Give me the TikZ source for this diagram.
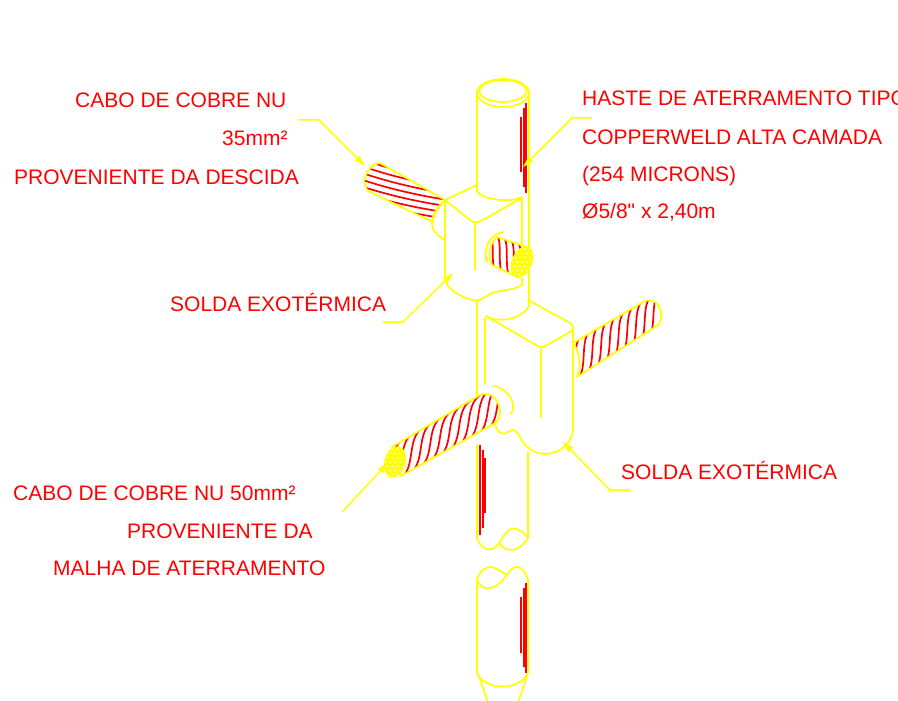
\documentclass[tikz,border=0pt]{standalone}
\usepackage{fontspec}
\newfontfamily\lbfont{Liberation Sans}
\usetikzlibrary{arrows.meta}
\definecolor{yel}{RGB}{255,255,0}
\definecolor{cu}{RGB}{255,0,0}

% outlines of the copper cables (pixel-like units, y downwards)
\newcommand{\cabAout}{(380,163) -- (445,200) .. controls (439,207) and (433,214) .. (433,222) -- (374,194) -- (367,190) -- (364,181) -- (367,172) -- (373,165) -- cycle}
\newcommand{\cabBout}{(497,237) -- (527,247) -- (517,277) -- (492,265) .. controls (488,258) and (489,243) .. (497,237) -- cycle}
\newcommand{\cabCout}{(392,447) -- (480,395) .. controls (492,390) and (500,402) .. (500,412) .. controls (500,418) and (498,421) .. (495,423) -- (401,476) -- cycle}
\newcommand{\cabDout}{(573,343) -- (645,301) .. controls (655,297) and (663,308) .. (661,318) .. controls (660,323) and (658,326) .. (655,327) -- (577,377) .. controls (582,368) and (580,352) .. (573,343) -- cycle}

\begin{document}
\begin{tikzpicture}[x=1pt,y=-1pt,
  yl/.style={draw=yel, line width=1.7pt, line join=round, line cap=round},
  strand/.style={draw=cu, line width=1.7pt},
  rodmark/.style={draw=cu, line width=2pt},
  leader/.style={draw=yel, line width=1.5pt, -{Triangle[length=11pt,width=6.5pt]}},
  lbl/.style={text=cu, font=\lbfont\fontsize{21}{25}\selectfont, anchor=base west, inner sep=0pt},
  face/.style={fill=yel, draw=yel, line width=1.2pt}]

\fill[white] (0,0) rectangle (898,701);
\useasboundingbox (0,0) rectangle (898,701);

% ---------- copper marks on the rod ----------
\draw[rodmark] (521,117) -- (521,172);
\draw[rodmark] (523.5,108) -- (523.5,187);
\draw[rodmark] (526,103) -- (526,193);
\draw[rodmark] (480,445) -- (480,535);
\draw[rodmark] (482.5,450) -- (482.5,528);
\draw[rodmark] (485,458) -- (485,513);
\draw[rodmark] (521,597) -- (521,653);
\draw[rodmark] (523.5,588) -- (523.5,667);
\draw[rodmark] (526,583) -- (526,673);

% ---------- rod, top part ----------
\draw[yl] (503,93) ellipse [x radius=26pt, y radius=14pt];
\draw[yl] (503,91) ellipse [x radius=23.5pt, y radius=11pt];
\draw[yl] (477,93) -- (477,191) .. controls (481,200) and (512,203) .. (522,197);
\draw[yl] (529,93) -- (529,306);

% ---------- upper weld mould ----------
\draw[yl] (445,200) -- (477,185);
\draw[yl] (445,200) -- (470,220) .. controls (474,223) and (477,223) .. (481,221) -- (522,198);
\draw[yl] (445,200) -- (445,278) .. controls (446,288) and (458,296) .. (472,300)
  .. controls (480,302) and (485,297) .. (490,294) .. controls (498,290) and (512,291) .. (522,285);
\draw[yl] (475,225) -- (475,270);
\draw[yl] (522,198) -- (522,244);
\draw[yl] (522,278) -- (522,285);

% ---------- 35 mm2 cable ----------
\begin{scope}
  \clip \cabAout;
  \begin{scope}[shift={(370,180)}, rotate=-25]
    \foreach \v in {-22,-15.5,...,60}
      \draw[strand] (-15,\v) .. controls (25,\v-4) and (75,\v-15) .. (120,\v-33);
  \end{scope}
\end{scope}
\draw[yl] \cabAout;
\draw[yl] (445,200) .. controls (437,207) and (432,215) .. (432,224) .. controls (432,231) and (438,236) .. (445,240);

% ---------- short cable into the upper mould ----------
\begin{scope}
  \clip \cabBout;
  \begin{scope}[shift={(492,251)}, rotate=-20]
    \foreach \u in {-30,-22.5,...,50}
      \draw[strand] (\u,-16) .. controls (\u+6,-12) and (\u+10,10) .. (\u+16,16);
  \end{scope}
\end{scope}
\draw[yl] \cabBout;
\draw[yl] (503,232) .. controls (494,234) and (487,241) .. (486,250) .. controls (485,255) and (486,259) .. (487,262);
\draw[face] (522,262) ellipse [x radius=9.5pt, y radius=16pt, rotate=-23];
\begin{scope}
  \clip (522,262) ellipse [x radius=9pt, y radius=15.5pt, rotate=-23];
  \foreach \i in {-4,...,4}
    \foreach \j in {-5,...,5}
      \fill[white] ({522+\i*5+\j*2.5},{262+\j*4.33}) circle (1pt);
\end{scope}

% ---------- rod between the moulds ----------
\draw[yl] (477,300) -- (477,396);

% ---------- lower weld mould ----------
\draw[yl] (486,316) .. controls (495,322) and (520,322) .. (529,306);
\draw[yl] (486,316) -- (536,345) .. controls (540,348) and (543,348) .. (547,345)
  -- (570,332) .. controls (574,329) and (574,326) .. (570,323) -- (528,300);
\draw[yl] (541,349) -- (541,417);
\draw[yl] (485,318) -- (485,384);
\draw[yl] (573,328) -- (573,428) .. controls (573,442) and (562,453) .. (546,454)
  .. controls (535,454) and (525,448) .. (520,437) .. controls (517,430) and (512,428) .. (508,432)
  .. controls (504,436) and (497,433) .. (495,424);

% ---------- 50 mm2 cable ----------
\begin{scope}
  \clip \cabCout;
  \begin{scope}[shift={(396,462)}, rotate=29.4]
    \foreach \u in {-60,-49,...,120}
      \draw[strand] (\u,17) .. controls (\u+20,15) and (\u+25,-15) .. (\u+45,-17);
  \end{scope}
\end{scope}
\draw[yl] \cabCout;
\draw[yl] (493,386) .. controls (503,387) and (512,396) .. (513,405) .. controls (513.5,409) and (512.5,411) .. (511,414);
\draw[face] (395,462) ellipse [x radius=10pt, y radius=15.5pt, rotate=-15];
\begin{scope}
  \clip (395,462) ellipse [x radius=9.5pt, y radius=15pt, rotate=-15];
  \foreach \i in {-4,...,4}
    \foreach \j in {-5,...,5}
      \fill[white] ({395+\i*5+\j*2.5},{462+\j*4.33}) circle (1pt);
\end{scope}

% ---------- cable on the right of the lower mould ----------
\begin{scope}
  \clip \cabDout;
  \begin{scope}[shift={(575,360)}, rotate=29.4]
    \foreach \u in {-50,-40,...,110}
      \draw[strand] (\u,19) .. controls (\u+17,17) and (\u+23,-17) .. (\u+40,-19);
  \end{scope}
\end{scope}
\draw[yl] \cabDout;

% ---------- rod below the lower mould ----------
\draw[yl] (477,445) -- (477,538);
\draw[yl] (528,452) -- (528,538);
\draw[yl] (477,538) .. controls (481,550) and (492,554) .. (499,543)
  .. controls (505,532) and (512,526) .. (517,529) .. controls (522,531) and (526,535) .. (528,538);
\draw[yl] (499,543) .. controls (505,552) and (518,554) .. (528,538);

% ---------- rod, bottom piece ----------
\draw[yl] (477,580) .. controls (480,570) and (487,566) .. (491,567)
  .. controls (497,568) and (502,572) .. (507,575) .. controls (510,570) and (514,566) .. (518,567)
  .. controls (523,568) and (527,575) .. (528,580);
\draw[yl] (477,580) .. controls (481,590) and (493,594) .. (507,575);
\draw[yl] (477,580) -- (477,673) .. controls (485,691) and (520,691) .. (528,673) -- (528,580);
\draw[yl] (479,676) -- (491,712);
\draw[yl] (527,676) -- (515,712);

% ---------- labels ----------
\node[lbl] (cabA1) at (75,108) {CABO DE COBRE NU};
\node[lbl] (cabA2) at (222,146) {35mm²};
\node[lbl] (cabA3) at (14,184) {PROVENIENTE DA DESCIDA};
\node[lbl] (rod1) at (582,106) {HASTE DE ATERRAMENTO TIPO};
\node[lbl] (rod2) at (582,144) {COPPERWELD ALTA CAMADA};
\node[lbl] (rod3) at (582,181) {(254 MICRONS)};
\node[lbl] (rod4) at (582,218) {Ø5/8" x 2,40m};
\node[lbl] (weld1) at (170,311) {SOLDA EXOTÉRMICA};
\node[lbl] (weld2) at (621,479) {SOLDA EXOTÉRMICA};
\node[lbl] (cabC1) at (13,500) {CABO DE COBRE NU 50mm²};
\node[lbl] (cabC2) at (127,538) {PROVENIENTE DA};
\node[lbl] (cabC3) at (53,575) {MALHA DE ATERRAMENTO};

% ---------- leaders ----------
\coordinate (l1s) at (298,120); \coordinate (l1b) at (319,120); \coordinate (l1t) at (365,166);
\coordinate (l2s) at (592,118); \coordinate (l2b) at (572,118); \coordinate (l2t) at (523,167);
\coordinate (l3s) at (383,322); \coordinate (l3b) at (403,322); \coordinate (l3t) at (453,273);
\coordinate (l4s) at (630,490); \coordinate (l4b) at (610,490); \coordinate (l4t) at (563,442);
\coordinate (l5s) at (342,512); \coordinate (l5t) at (388,463);
\draw[leader] (l1s) -- (l1b) -- (l1t);
\draw[leader] (l2s) -- (l2b) -- (l2t);
\draw[leader] (l3s) -- (l3b) -- (l3t);
\draw[leader] (l4s) -- (l4b) -- (l4t);
\draw[leader] (l5s) -- (l5t);
\end{tikzpicture}
\end{document}
